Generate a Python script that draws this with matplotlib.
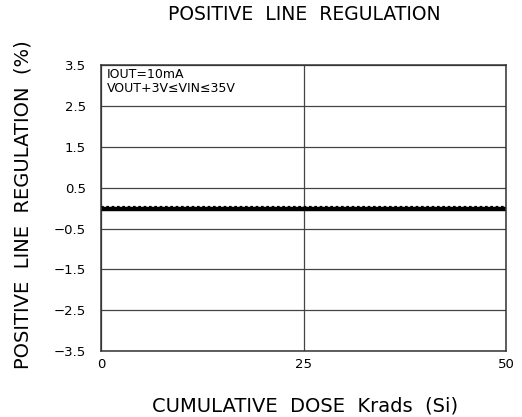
import matplotlib
matplotlib.use('Agg')
import matplotlib.pyplot as plt

# dose points (Krads) and line regulation (%)
dose = [0, 25, 50]
reg_dotted = [0.02, 0.02, 0.02]
reg_solid = [-0.03, -0.03, -0.03]

yticks = [3.5, 2.5, 1.5, 0.5, -0.5, -1.5, -2.5, -3.5]
xticks = [0, 25, 50]

plt.rcParams['font.family'] = 'DejaVu Sans'

fig = plt.figure(figsize=(5.22, 4.17), dpi=100)
ax = fig.add_axes([0.1935, 0.158, 0.776, 0.686])

ax.plot(dose, reg_solid, color='black', lw=3.2, solid_capstyle='butt')
ax.plot(dose, reg_dotted, color='black', lw=1.6, ls=(0, (1.2, 1.2)))

ax.set_xlim(0, 50)
ax.set_ylim(-3.5, 3.5)
ax.set_xticks(xticks)
ax.set_yticks(yticks)
ax.set_yticklabels([f'{v:.1f}'.replace('-', '\u2212') for v in yticks])
ax.tick_params(length=0, labelsize=9.5)
ax.tick_params(axis='y', pad=11)
ax.tick_params(axis='x', pad=5)
ax.grid(True, color='#444444', lw=0.9)
for s in ax.spines.values():
    s.set_color('#333333')
    s.set_linewidth(1.1)

ax.text(0.015, 0.99, 'IOUT=10mA\nVOUT+3V\u2264VIN\u226435V',
        transform=ax.transAxes, va='top', ha='left', fontsize=9, linespacing=1.1,
        bbox=dict(facecolor='white', edgecolor='none', pad=1))

fig.text(0.583, 0.965, 'POSITIVE  LINE  REGULATION', ha='center', va='center', fontsize=13.5)
fig.text(0.585, 0.026, 'CUMULATIVE  DOSE  Krads  (Si)', ha='center', va='center', fontsize=14)
fig.text(0.045, 0.51, 'POSITIVE  LINE  REGULATION  (%)', ha='center', va='center',
         rotation=90, fontsize=14)

fig.savefig('out.png', dpi=100)
